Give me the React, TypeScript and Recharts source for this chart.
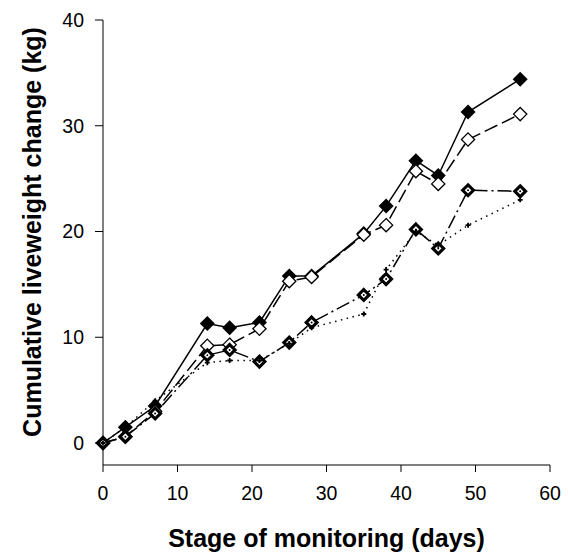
import { LineChart, Line, XAxis, YAxis } from 'recharts';

const days = [0, 3, 7, 14, 17, 21, 25, 28, 35, 38, 42, 45, 49, 56];
const seriesA = [0, 1.5, 3.5, 11.3, 10.9, 11.4, 15.8, 15.8, 19.8, 22.4, 26.7, 25.3, 31.3, 34.4];
const seriesB = [0, 0.6, 3.0, 9.2, 9.3, 10.8, 15.3, 15.7, 19.7, 20.6, 25.7, 24.5, 28.7, 31.1];
const seriesC = [0, 0.6, 2.8, 8.3, 8.8, 7.7, 9.5, 11.4, 14.0, 15.5, 20.2, 18.4, 23.9, 23.8];
const seriesD = [0, 1.5, 4.0, 7.6, 7.8, 7.8, 9.4, 10.9, 12.2, 16.4, 20.0, 18.7, 20.6, 23.0];
const xTicks = [0, 10, 20, 30, 40, 50, 60];
const yTicks = [0, 10, 20, 30, 40];

const data = days.map((day, i) => ({
  day,
  a: seriesA[i],
  b: seriesB[i],
  c: seriesC[i],
  d: seriesD[i],
}));

const font = '"Liberation Sans", Arial, sans-serif';

const diamond = (cx: number, cy: number, h: number) =>
  `M${cx},${cy - h}L${cx + h},${cy}L${cx},${cy + h}L${cx - h},${cy}Z`;

const FilledDiamond = (p: any) => (
  <path key={`a${p.index}`} d={diamond(p.cx, p.cy, 7.5)} fill="#000" />
);

const OpenDiamond = (p: any) => (
  <path key={`b${p.index}`} d={diamond(p.cx, p.cy, 6.6)} fill="#fff" stroke="#000" strokeWidth={1.3} />
);

// diamond with heavy outline and a dot in the middle
const DotDiamond = (p: any) => (
  <g key={`c${p.index}`}>
    <path d={diamond(p.cx, p.cy, 5.4)} fill="#fff" stroke="#000" strokeWidth={3.1} />
    <circle cx={p.cx} cy={p.cy} r={1} fill="#000" />
  </g>
);

const PlusMark = (p: any) => (
  <path
    key={`d${p.index}`}
    d={`M${p.cx - 2.5},${p.cy}H${p.cx + 2.5}M${p.cx},${p.cy - 2.5}V${p.cy + 2.5}`}
    stroke="#000"
    strokeWidth={1.8}
  />
);

export default function App() {
  return (
    <div style={{ position: 'absolute', left: 0, top: 0, background: '#fff' }}>
      <LineChart
        width={568}
        height={553}
        data={data}
        margin={{ top: 20, right: 18, bottom: 0, left: 0 }}
      >
        <XAxis
          type="number"
          dataKey="day"
          domain={[0, 60]}
          ticks={xTicks}
          height={88}
          tickSize={7}
          tickMargin={14}
          stroke="#000"
          tick={{ fill: '#000', fontSize: 19.5, fontFamily: font }}
          label={{
            content: (props: any) => {
              const vb = props.viewBox;
              return (
                <text
                  x={vb.x + vb.width / 2}
                  y={547}
                  textAnchor="middle"
                  fontFamily={font}
                  fontWeight="bold"
                  fontSize={25}
                  fill="#000"
                >
                  Stage of monitoring (days)
                </text>
              );
            },
          }}
        />
        <YAxis
          type="number"
          domain={[-2.08, 40]}
          ticks={yTicks}
          width={103}
          tickSize={8}
          tickMargin={11}
          stroke="#000"
          tick={{ fill: '#000', fontSize: 19.5, fontFamily: font }}
          label={{
            content: () => (
              <text
                transform="translate(41,232) rotate(-90)"
                textAnchor="middle"
                fontFamily={font}
                fontWeight="bold"
                fontSize={25}
                fill="#000"
              >
                Cumulative liveweight change (kg)
              </text>
            ),
          }}
        />
        <Line
          dataKey="a"
          stroke="#000"
          strokeWidth={1.5}
          dot={FilledDiamond}
          isAnimationActive={false}
        />
        <Line
          dataKey="b"
          stroke="#000"
          strokeWidth={1.5}
          strokeDasharray="14 5"
          dot={OpenDiamond}
          isAnimationActive={false}
        />
        <Line
          dataKey="c"
          stroke="#000"
          strokeWidth={1.5}
          strokeDasharray="14 4 2 4"
          dot={DotDiamond}
          isAnimationActive={false}
        />
        <Line
          dataKey="d"
          stroke="#000"
          strokeWidth={1.5}
          strokeDasharray="1.5 4.5"
          dot={PlusMark}
          isAnimationActive={false}
        />
      </LineChart>
    </div>
  );
}
